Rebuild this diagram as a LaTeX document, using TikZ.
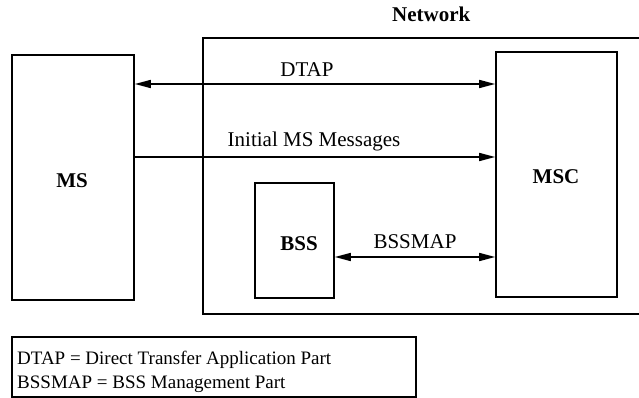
\documentclass[tikz,border=0pt]{standalone}
\usepackage{fontspec}
\setmainfont{Liberation Serif}
\usetikzlibrary{arrows.meta}
\begin{document}
\begin{tikzpicture}[x=1pt,y=-1pt,
  box/.style={draw,line width=1.6pt,inner sep=0pt},
  conn/.style={line width=1.6pt},
  tip/.style={-{Triangle[length=16pt,width=8pt]}},
  both/.style={{Triangle[length=16pt,width=8pt]}-{Triangle[length=16pt,width=8pt]}},
  lbl/.style={font=\fontsize{21}{24}\selectfont,anchor=base,inner sep=0pt},
  blbl/.style={font=\fontsize{21}{24}\selectfont\bfseries,anchor=base,inner sep=0pt},
  leglbl/.style={font=\fontsize{19}{24}\selectfont,anchor=base west,inner sep=0pt}]
\useasboundingbox (0,0) rectangle (639,398);
% Network enclosure
\draw[box] (203,38) rectangle (660,314);
\node[blbl,anchor=base west] (net) at (392,22) {Network};
% Boxes
\node[box,minimum width=122pt,minimum height=245pt] (MS) at (73,177.5) {};
\node[box,minimum width=121pt,minimum height=245pt] (MSC) at (556.5,174.5) {};
\node[box,minimum width=79pt,minimum height=115pt] (BSS) at (294.5,240.5) {};
\node[blbl] (msl) at (72,187) {MS};
\node[blbl] (mscl) at (556,183) {MSC};
\node[blbl] (bssl) at (299,250) {BSS};
% Connectors
\draw[conn,both] (MS.east |- {(0,84)}) -- (MSC.west |- {(0,84)});
\draw[conn,tip] (MS.east |- {(0,157)}) -- (MSC.west |- {(0,157)});
\draw[conn,both] (BSS.east |- {(0,257)}) -- (MSC.west |- {(0,257)});
\node[lbl] (dtap) at (307,77) {DTAP};
\node[lbl] (init) at (314,147) {Initial MS Messages};
\node[lbl] (bssmap) at (415,248) {BSSMAP};
% Legend
\draw[box] (12,337) rectangle (416,397);
\node[leglbl] (leg1) at (17,364) {DTAP = Direct Transfer Application Part};
\node[leglbl] (leg2) at (17,388) {BSSMAP = BSS Management Part};
\end{tikzpicture}
\end{document}
